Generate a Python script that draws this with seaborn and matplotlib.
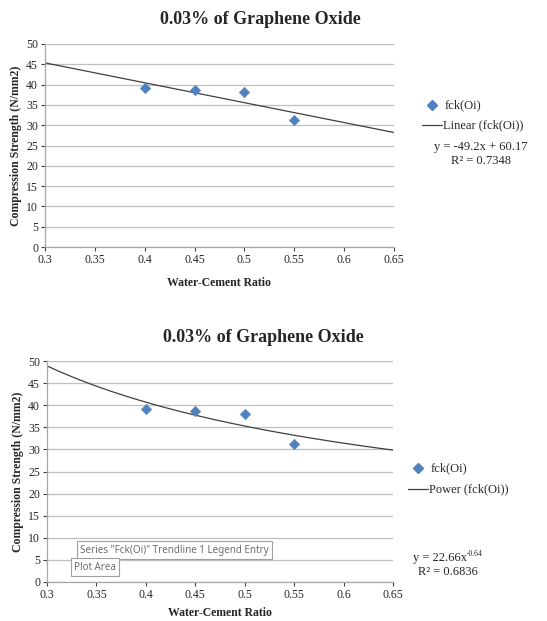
import numpy as np
import pandas as pd
import matplotlib
matplotlib.use("Agg")
import matplotlib.pyplot as plt
import seaborn as sns

# ---- data ----
wc_ratio = [0.40, 0.45, 0.50, 0.55]
fck_oi = [39.2, 38.6, 38.1, 31.2]
x_ticks = [0.3, 0.35, 0.4, 0.45, 0.5, 0.55, 0.6, 0.65]
y_ticks = [0, 5, 10, 15, 20, 25, 30, 35, 40, 45, 50]
title = "0.03% of Graphene Oxide"
x_label = "Water-Cement Ratio"
y_label = "Compression Strength (N/mm2)"
lin_eq = ["y = -49.2x + 60.17", "R² = 0.7348"]
pow_eq = ["y = 22.66x", "-0.64", "R² = 0.6836"]

df = pd.DataFrame({"x": wc_ratio, "y": fck_oi})

sns.set_theme(style="white")
plt.rcParams["font.family"] = ["Liberation Serif", "DejaVu Serif"]

W, H = 547, 621
fig = plt.figure(figsize=(W / 100, H / 100), dpi=100)

def box(l, t, r, b):
    return [l / W, 1 - b / H, (r - l) / W, (b - t) / H]

ax1 = fig.add_axes(box(45, 44, 394, 247))
ax2 = fig.add_axes(box(47, 361, 393, 582))

marker_color = "#4F81BD"
grid_color = "#BFBFBF"
xs = np.linspace(0.3, 0.65, 200)

# linear fit
p = np.polyfit(df["x"], df["y"], 1)
# power fit (log-log)
pp = np.polyfit(np.log(df["x"]), np.log(df["y"]), 1)

for ax, kind in [(ax1, "lin"), (ax2, "pow")]:
    for yv in y_ticks:
        ax.axhline(yv, color=grid_color, lw=0.9, zorder=0)
    sns.scatterplot(data=df, x="x", y="y", marker="D", s=28, color=marker_color,
                    edgecolor=marker_color, ax=ax, zorder=3, legend=False)
    if kind == "lin":
        ys = np.polyval(p, xs)
    else:
        ys = np.exp(pp[1]) * xs ** pp[0]
    sns.lineplot(x=xs, y=ys, color="#404040", lw=0.9, ax=ax, zorder=2)
    ax.set_xlim(0.3, 0.65)
    ax.set_ylim(0, 50)
    ax.set_xticks(x_ticks)
    ax.set_xticklabels([f"{v:g}" for v in x_ticks])
    ax.set_yticks(y_ticks)
    ax.tick_params(axis="both", labelsize=8.5, colors="#404040", length=3,
                   width=0.8, direction="out", pad=2, bottom=True, left=True)
    for lbl in ax.get_xticklabels() + ax.get_yticklabels():
        lbl.set_color("#262626")
    for s in ["top", "right"]:
        ax.spines[s].set_visible(False)
    for s in ["left", "bottom"]:
        ax.spines[s].set_color("#A6A6A6")
        ax.spines[s].set_linewidth(0.9)
    ax.set_ylabel(y_label, fontsize=8.5, fontweight="bold", labelpad=3)
    ax.set_facecolor("white")

ax1.set_xlabel(x_label, fontsize=8.5, fontweight="bold", labelpad=8)
ax2.set_xlabel(x_label, fontsize=8.5, fontweight="bold", labelpad=4)

# titles
fig.text(260 / W, 1 - 19 / H, title, ha="center", va="center",
         fontsize=13, fontweight="bold")
fig.text(263 / W, 1 - 337 / H, title, ha="center", va="center",
         fontsize=13, fontweight="bold")

def legend_block(mx, my, ly, lx0, lx1, tx, label2):
    fig.lines.append(plt.Line2D([mx / W], [1 - my / H], marker="D", ms=5,
                                color=marker_color, transform=fig.transFigure,
                                linestyle="none"))
    fig.text(tx / W, 1 - my / H, "fck(Oi)", ha="left", va="center", fontsize=9)
    fig.lines.append(plt.Line2D([lx0 / W, lx1 / W], [1 - ly / H, 1 - ly / H],
                                color="#404040", lw=0.9,
                                transform=fig.transFigure))
    fig.text((lx1 + 1) / W, 1 - ly / H, label2, ha="left", va="center",
             fontsize=9)

legend_block(432, 105, 125, 422, 442, 445, "Linear (fck(Oi))")
legend_block(418, 468, 489, 408, 428, 431, "Power (fck(Oi))")

# equations
fig.text(481 / W, 1 - 147 / H, lin_eq[0], ha="center", va="center", fontsize=9)
fig.text(481 / W, 1 - 161 / H, lin_eq[1], ha="center", va="center", fontsize=9)
fig.text(467 / W, 1 - 558 / H, pow_eq[0], ha="right", va="center", fontsize=9)
fig.text(467 / W, 1 - 554 / H, pow_eq[1], ha="left", va="center", fontsize=5.5)
fig.text(448 / W, 1 - 572 / H, pow_eq[2], ha="center", va="center", fontsize=9)

# Excel tooltips
tip_style = dict(boxstyle="square,pad=0.35", fc="white", ec="#A0A0A0", lw=0.8)
fig.text(80 / W, 1 - 550 / H, 'Series "Fck(Oi)" Trendline 1 Legend Entry',
         ha="left", va="center", fontsize=7.1, color="#6E6E6E",
         family=["Noto Sans"], bbox=tip_style)
fig.text(74 / W, 1 - 567 / H, "Plot Area", ha="left", va="center",
         fontsize=7.1, color="#6E6E6E", family=["Noto Sans"], bbox=tip_style)

fig.savefig("out.png", dpi=100)
